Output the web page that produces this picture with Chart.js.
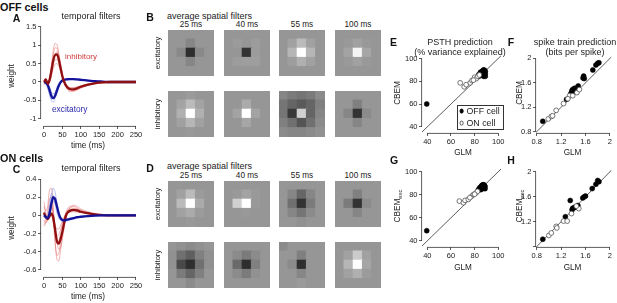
<!DOCTYPE html>
<html><head><meta charset="utf-8">
<script src="https://cdn.jsdelivr.net/npm/chart.js@4"></script>
<style>
html,body{margin:0;padding:0}
body{width:617px;height:303px;overflow:hidden;background:#fff;font-family:"Liberation Sans",Arial,sans-serif;color:#222;position:relative}
canvas{position:absolute}
.t{position:absolute;white-space:nowrap;line-height:1;transform:translate(-50%,-50%);z-index:3}
.l{transform:translate(0,-50%)}
.r{transform:translate(-50%,-50%) rotate(-90deg)}
.b{font-weight:bold}
sub{font-size:0.72em;vertical-align:-0.3em;line-height:0}
.leg{position:absolute;border:0.8px solid #333;background:#fff;z-index:2}
.dot{position:absolute;width:4.8px;height:4.8px;border-radius:50%;transform:translate(-50%,-50%);z-index:3;box-sizing:border-box}
</style></head><body>
<script>
// ---------------- DATA ----------------
const T = [0,5,10,15,20,25,30,35,40,45,50,55,60,65,70,80,90,100,120,140,160,180,200,225,250];

const offInhMean = [0,0.07,-0.05,0.05,0.3, 0.58,0.73,0.75,0.62,0.38, 0.15,0,-0.1,-0.16,-0.19, -0.2,-0.17,-0.13,-0.07,-0.03, -0.01,0,0,0,0];
const offInhCell1 = [-0.05,0.1,-0.08,0.08,0.45, 0.85,1.05,1.02,0.8,0.48, 0.18,-0.03,-0.15,-0.22,-0.26, -0.26,-0.22,-0.17,-0.09,-0.04, -0.02,-0.01,0,0,0];
const offInhCell2 = [0.02,0.05,0,0.1,0.38, 0.72,0.93,0.92,0.72,0.42, 0.16,-0.02,-0.13,-0.2,-0.23, -0.22,-0.19,-0.14,-0.08,-0.04, -0.02,0,0,0,0];
const offInhCell3 = [0,0.06,-0.04,0.03,0.22, 0.45,0.6,0.62,0.52,0.33, 0.14,0.01,-0.08,-0.14,-0.17, -0.17,-0.15,-0.11,-0.06,-0.03, -0.01,0,0,0,0];
const offInhCell4 = [-0.08,0.03,-0.06,0,0.15, 0.35,0.48,0.5,0.44,0.3, 0.13,0.02,-0.07,-0.12,-0.15, -0.15,-0.13,-0.1,-0.05,-0.02, -0.01,0,0,0,0];
const offInhCell5 = [0.03,0.08,-0.02,0.02,0.2, 0.5,0.75,0.82,0.72,0.5, 0.25,0.05,-0.08,-0.16,-0.21, -0.23,-0.2,-0.15,-0.08,-0.04, -0.02,-0.01,0,0,0];

const offExcMean = [0,-0.02,-0.08,-0.22,-0.38, -0.44,-0.38,-0.24,-0.1,-0.01, 0.04,0.06,0.07,0.075,0.08, 0.08,0.07,0.06,0.04,0.02, 0.01,0,0,0,0];
const offExcCell1 = [0,-0.03,-0.12,-0.3,-0.5, -0.55,-0.45,-0.28,-0.12,-0.02, 0.04,0.07,0.08,0.09,0.09, 0.09,0.08,0.07,0.05,0.03, 0.01,0,0,0,0];
const offExcCell2 = [0.02,0,-0.05,-0.15,-0.28, -0.32,-0.28,-0.18,-0.07,0, 0.04,0.05,0.06,0.06,0.07, 0.07,0.06,0.05,0.03,0.02, 0.01,0,0,0,0];
const offExcCell3 = [0,-0.05,-0.18,-0.36,-0.47, -0.43,-0.3,-0.15,-0.04,0.03, 0.06,0.07,0.08,0.08,0.08, 0.08,0.07,0.06,0.04,0.02, 0.01,0,0,0,0];
const offExcCell4 = [0.08,0.02,-0.04,-0.12,-0.28, -0.4,-0.4,-0.3,-0.15,-0.04, 0.03,0.06,0.07,0.08,0.08, 0.08,0.07,0.06,0.04,0.02, 0.01,0,0,0,0];

const onExcMean = [0,-0.02,-0.03,0.02,0.13, 0.2,0.18,0.1,0.02,-0.03, -0.05,-0.055,-0.05,-0.045,-0.04, -0.03,-0.02,-0.015,-0.007,-0.002, 0,0,0,0,0];
const onExcCell1 = [0,-0.03,-0.04,0.05,0.2, 0.3,0.26,0.14,0.03,-0.04, -0.07,-0.07,-0.065,-0.06,-0.05, -0.04,-0.03,-0.02,-0.01,0, 0,0,0,0,0];
const onExcCell2 = [0.01,-0.01,-0.02,0.02,0.1, 0.15,0.14,0.08,0.02,-0.02, -0.04,-0.045,-0.04,-0.035,-0.03, -0.025,-0.02,-0.012,-0.005,0, 0,0,0,0,0];
const onExcCell3 = [0,-0.02,0,0.12,0.24, 0.22,0.12,0.03,-0.03,-0.05, -0.05,-0.045,-0.04,-0.035,-0.03, -0.025,-0.02,-0.012,-0.005,0, 0,0,0,0,0];
const onExcCell4 = [0.02,0,-0.03,0,0.08, 0.18,0.2,0.14,0.05,-0.02, -0.05,-0.06,-0.055,-0.05,-0.045, -0.035,-0.025,-0.015,-0.006,0, 0,0,0,0,0];

const onInhMean = [0.03,-0.02,-0.04,-0.01,0.02, -0.02,-0.15,-0.28,-0.31,-0.26, -0.18,-0.08,0,0.035,0.05, 0.06,0.055,0.04,0.025,0.012, 0.004,0,0,0,0];
const onInhCell1 = [0.15,0.05,0.1,0.28,0.3, 0.1,-0.25,-0.48,-0.5,-0.38, -0.2,-0.05,0.04,0.08,0.1, 0.1,0.08,0.06,0.03,0.01, 0,0,0,0,0];
const onInhCell2 = [-0.05,-0.08,-0.05,0.05,0.1, -0.05,-0.3,-0.44,-0.42,-0.3, -0.17,-0.05,0.02,0.06,0.08, 0.08,0.07,0.05,0.03,0.01, 0,0,0,0,0];
const onInhCell3 = [0.05,0,-0.03,0,0, -0.08,-0.17,-0.22,-0.21,-0.16, -0.09,-0.03,0.01,0.03,0.04, 0.05,0.045,0.035,0.02,0.01, 0,0,0,0,0];
const onInhCell4 = [-0.1,-0.05,0.05,0.18,0.2, 0.05,-0.12,-0.28,-0.37,-0.36, -0.26,-0.13,-0.03,0.04,0.08, 0.11,0.1,0.07,0.04,0.02, 0.01,0,0,0,0];
const onInhCell5 = [0.1,0.02,-0.04,-0.02,0.02, -0.04,-0.1,-0.15,-0.15,-0.11, -0.06,-0.02,0.01,0.025,0.035, 0.04,0.035,0.03,0.015,0.005, 0,0,0,0,0];
const onInhCell6 = [-0.12,-0.08,-0.02,0.08,0.12, 0,-0.2,-0.3,-0.28,-0.2, -0.1,-0.02,0.03,0.05,0.06, 0.065,0.06,0.045,0.025,0.01, 0,0,0,0,0];

const timeTicks = [0,50,100,150,200,250];
const weightTicksOff = [-1,-0.5,0,0.5,1,1.5];
const weightTicksOn = [-0.6,-0.4,-0.2,0,0.2,0.4];
const lagLabels = ['25 ms','40 ms','55 ms','100 ms'];

// spatial filters (5x5, rows top->bottom, values -1..1 relative to background gray)
const offExc25 = [[0,0,0,0,0],[0,0,-0.15,0,0],[0,-0.12,-0.95,-0.12,0],[0,0,-0.15,0,0],[0,0,0,0,0]];
const offExc40 = [[0,0,0,0,0],[0,0.05,0,0.06,0],[0,0,-0.9,0.05,0],[0,0.06,0.08,0.08,0],[0,0,0,0,0]];
const offExc55 = [[0,0,0,0,0],[0,0.1,0.35,0.1,0],[0,0.3,1,0.3,0],[0,0.08,0.25,0.1,0],[0,0,0,0,0]];
const offExc100 = [[0,0,0,0,0],[0,0.03,0.1,0.03,0],[0,0.12,0.9,0.15,0],[0,0.03,0.1,0.03,0],[0,0,0,0,0]];
const offInh25 = [[0,0,0.05,0,0],[0,0.12,0.35,0.12,0],[0,0.25,1,0.25,0],[0,0.1,0.3,0.1,0],[0,0,0.03,0,0]];
const offInh40 = [[0,0,0,0,0],[0,0,0.2,0,0],[0,0.12,1,0.12,0],[0,0,0.15,0,0],[0,0,0,0,0]];
const offInh55 = [[-0.15,-0.25,-0.3,-0.25,-0.1],[-0.3,-0.45,-0.55,-0.45,-0.2],[-0.3,-0.85,0.55,-0.45,-0.15],[-0.2,-0.35,-0.6,-0.35,-0.1],[-0.1,-0.15,-0.15,-0.1,-0.05]];
const offInh100 = [[0,0,0,0,0],[0,0,-0.2,0,0],[0,-0.15,-0.9,-0.1,0],[0,0,-0.15,0,0],[0,0,0,0,0]];
const onExc25 = [[0,0,0,0,0],[0,0.1,0.35,0.05,0],[0,0.35,1,0.2,0],[0,0.1,0.2,0.05,0],[0,0,0.03,0,0]];
const onExc40 = [[0,0,0,0,0],[0,0.03,0.12,0.03,0],[0,0.55,1,0.03,0],[0,0,0.03,0,0],[0,0,0,0,0]];
const onExc55 = [[0,0,0,0,0],[0,-0.15,-0.45,-0.15,0],[0,-0.35,-0.9,-0.25,0],[0,-0.15,-0.3,-0.1,0],[0,0,-0.05,0,0]];
const onExc100 = [[0,0,0,0,0],[0,0,-0.2,0,0],[0,-0.25,-0.9,-0.1,0],[0,0,-0.15,0,0],[0,0,0,0,0]];
const onInh25 = [[0,-0.05,-0.1,-0.05,0],[-0.05,-0.35,-0.5,-0.2,-0.05],[-0.05,-0.7,-0.95,-0.35,-0.05],[0,-0.25,-0.45,-0.2,0],[0,0,-0.1,0,0]];
const onInh40 = [[0,0,0,0,0],[0,-0.1,-0.25,-0.1,0],[0,-0.4,-0.95,-0.2,0],[0,-0.1,-0.25,-0.05,0],[0,0,0,0,0]];
const onInh55 = [[-0.1,0,0,0,0],[0,0,-0.2,0,0],[0,-0.1,-0.95,0,0],[0,0,-0.15,0,0],[0,0,0.05,0,0]];
const onInh100 = [[0,0,0,0,0],[0,0.1,0.5,0.1,0],[0,0.3,1,0.15,0],[0,0.1,0.25,0.05,0],[0,0,0,0,0]];

// model comparison (GLM on x, CBEM on y)
const psthGlmOff  = [39.5,83.4,84.8,86.2,87.6,89,88.2,86.2,87,84.2,89,87.6,89,85.5,86.8,88.5,83,85,87.8];
const psthCbemOff = [60.1,85.7,87.1,88.6,90,88.6,85.7,85.7,87.1,84.8,86.6,84.3,84.3,86.5,89,89.5,84,88,88];
const psthGlmOn   = [67.8,71.2,72.9,76.3,77.7,80,81.4,82.8,79,84];
const psthCbemOn  = [78.6,75.1,77,78.6,80.6,83.5,82.3,84.3,81,85.5];
const bitsGlmOff  = [0.9,1.29,1.37,1.39,1.42,1.45,1.48,1.38,1.36,1.41,1.56,1.57,1.58,1.72,1.77,1.8,1.82];
const bitsCbemOff = [0.97,1.33,1.44,1.49,1.51,1.51,1.55,1.475,1.42,1.46,1.68,1.71,1.67,1.81,1.89,1.92,1.93];
const bitsGlmOn   = [0.99,1.04,1.06,1.12,1.24,1.34,1.39,1.46,1.5,1.31];
const bitsCbemOn  = [1.01,1.05,1.06,1.15,1.26,1.39,1.39,1.44,1.49,1.34];
const psthGlmOffG = [39.5,83.2,84.6,86,87.4,88.8,88.8,86.8,85.1,87.5,85.5,88,84,86.5];
const psthExcOff  = [48.8,84.4,86.4,87.8,88.7,87.3,85.3,85.3,84.4,86.5,87,88.5,85.5,88.5];
const psthGlmOnG  = [67.1,70.5,71.9,74.7,77.6,79,81.2,82.4,80,76];
const psthExcOn   = [74.5,73.1,75.1,76,78.8,80.2,81.6,83,80.5,77.5];
const bitsGlmOffH = [0.9,1.27,1.35,1.39,1.44,1.475,1.38,1.555,1.58,1.6,1.71,1.77,1.8,1.82,1.42];
const bitsExcOff  = [0.92,1.28,1.54,1.415,1.43,1.46,1.39,1.58,1.6,1.61,1.73,1.8,1.86,1.84,1.43];
const bitsGlmOnH  = [1.0,1.04,1.12,1.24,1.3,1.37,1.49,1.13,1.45];
const bitsExcOn   = [0.98,1.02,1.125,1.21,1.21,1.33,1.41,1.1,1.45];
const pctTicks = [40,60,80,100];
const bitsTicks = [0.8,1.2,1.6,2];
const bitsTickLabelsH = ['','1.2','1.6','2'];
const diagPct = [30,110];
const diagBits = [0.6,2.2];

// ---------------- RENDER ----------------
Chart.defaults.font.family = '"Liberation Sans", Arial, sans-serif';
Chart.defaults.color = '#222';
const AX = '#333';
const TICK = 7.5;

function mkCanvas(x,y,w,h){const c=document.createElement('canvas');c.width=w;c.height=h;c.style.left=x+'px';c.style.top=y+'px';c.style.width=w+'px';c.style.height=h+'px';document.body.appendChild(c);return c;}
function txt(html,x,y,size,cls,color){const d=document.createElement('div');d.className='t '+(cls||'');d.innerHTML=html;d.style.left=x+'px';d.style.top=y+'px';d.style.fontSize=size+'px';if(color)d.style.color=color;document.body.appendChild(d);}
function pts(xs,ys){return xs.map((x,i)=>({x,y:ys[i]}));}

const rAxis={id:'rAxis',afterDraw(chart){
  const ctx=chart.ctx,a=chart.chartArea,xs=chart.scales.x,ys=chart.scales.y;
  ctx.save();ctx.strokeStyle=AX;ctx.lineWidth=0.8;
  const x0=xs.getPixelForValue(xs.ticks[0].value),x1=xs.getPixelForValue(xs.ticks[xs.ticks.length-1].value);
  ctx.beginPath();ctx.moveTo(x0,a.bottom+0.4);ctx.lineTo(x1,a.bottom+0.4);ctx.stroke();
  const y0=ys.getPixelForValue(ys.ticks[0].value),y1=ys.getPixelForValue(ys.ticks[ys.ticks.length-1].value);
  ctx.beginPath();ctx.moveTo(a.left-0.4,y0);ctx.lineTo(a.left-0.4,y1);ctx.stroke();
  ctx.restore();}};

function axisOpts(k,min,max,tv,tl,size){
  return {type:'linear',min,max,position:k==='x'?'bottom':'left',
    afterBuildTicks:s=>{s.ticks=tv.map(v=>({value:v}));},
    afterFit:s=>{if(k==='x')s.height=size;else s.width=size;s.paddingLeft=0;s.paddingRight=0;s.paddingTop=0;s.paddingBottom=0;},
    grid:{drawOnChartArea:false,drawTicks:true,tickLength:3,color:AX,lineWidth:0.8},
    border:{display:false},
    ticks:{autoSkip:false,maxRotation:0,minRotation:0,padding:k==='x'?1.8:1.5,color:'#222',font:{size:TICK},
      callback:(v,i)=>tl?tl[i]:String(v)}};
}
function axChart(g,sc,datasets){
  const c=mkCanvas(g.x,g.y,g.w,g.h);
  return new Chart(c,{type:'scatter',data:{datasets},options:{
    responsive:false,animation:false,events:[],
    layout:{padding:{top:g.pt,right:g.pr,left:0,bottom:0}},
    plugins:{legend:{display:false},tooltip:{enabled:false}},
    scales:{x:axisOpts('x',sc.xmin,sc.xmax,sc.xt,sc.xl,g.xh),y:axisOpts('y',sc.ymin,sc.ymax,sc.yt,sc.yl,g.yw)}},
    plugins:[rAxis]});
}
function line(ys,color,w,order){return {data:pts(T,ys),showLine:true,borderColor:color,borderWidth:w,pointRadius:0,cubicInterpolationMode:'monotone',order};}
const LR='rgba(226,80,80,0.55)',LB='rgba(100,120,225,0.55)',DR='#8e1010',DB='#14149a';

// Panel A
axChart({x:8,y:20,w:137,h:125,pt:4,pr:5,yw:33,xh:19},
  {xmin:-8.15,xmax:260.9,ymin:-1.196,ymax:1.576,xt:timeTicks,yt:weightTicksOff},
  [line(offInhCell1,LR,0.8,10),line(offInhCell2,LR,0.8,10),line(offInhCell3,LR,0.8,10),line(offInhCell4,LR,0.8,10),line(offInhCell5,LR,0.8,10),
   line(offExcCell1,LB,0.8,9),line(offExcCell2,LB,0.8,9),line(offExcCell3,LB,0.8,9),line(offExcCell4,LB,0.8,9),
   line(offExcMean,DB,2.3,2),line(offInhMean,DR,2.3,1)]);
// Panel C
axChart({x:8,y:171,w:137,h:125,pt:4,pr:5,yw:33,xh:19},
  {xmin:-8.15,xmax:260.9,ymin:-0.677,ymax:0.444,xt:timeTicks,yt:weightTicksOn},
  [line(onInhCell1,LR,0.8,10),line(onInhCell2,LR,0.8,10),line(onInhCell3,LR,0.8,10),line(onInhCell4,LR,0.8,10),line(onInhCell5,LR,0.8,10),line(onInhCell6,LR,0.8,10),
   line(onExcCell1,LB,0.8,9),line(onExcCell2,LB,0.8,9),line(onExcCell3,LB,0.8,9),line(onExcCell4,LB,0.8,9),
   line(onInhMean,DR,2.3,2),line(onExcMean,DB,2.3,1)]);

// scatter panels
function scat(xo,yo,xn,yn,diag){return [
  {data:pts(diag,diag),showLine:true,borderColor:'#333',borderWidth:0.8,pointRadius:0,order:5},
  {data:pts(xo,yo),pointRadius:2.5,backgroundColor:'#000',borderColor:'#000',borderWidth:0.5,order:2},
  {data:pts(xn,yn),pointRadius:2.4,backgroundColor:'#fff',borderColor:'#555',borderWidth:0.8,order:1}];}
axChart({x:396,y:50,w:110,h:100,pt:3,pr:5,yw:26,xh:17},
  {xmin:35.5,xmax:102.3,ymin:34.6,ymax:103.2,xt:pctTicks,yt:pctTicks},
  scat(psthGlmOff,psthCbemOff,psthGlmOn,psthCbemOn,diagPct));
axChart({x:510,y:50,w:106,h:100,pt:3,pr:4,yw:26,xh:17},
  {xmin:0.789,xmax:2.021,ymin:0.779,ymax:2.059,xt:bitsTicks,yt:bitsTicks},
  scat(bitsGlmOff,bitsCbemOff,bitsGlmOn,bitsCbemOn,diagBits));
axChart({x:396,y:163,w:110,h:101,pt:3,pr:5,yw:26,xh:17},
  {xmin:35.5,xmax:102.3,ymin:34.65,ymax:103.4,xt:pctTicks,yt:pctTicks},
  scat(psthGlmOffG,psthExcOff,psthGlmOnG,psthExcOn,diagPct));
axChart({x:510,y:163,w:106,h:101,pt:3,pr:4,yw:26,xh:17},
  {xmin:0.789,xmax:2.021,ymin:0.795,ymax:2.063,xt:bitsTicks,yt:bitsTicks,yl:bitsTickLabelsH},
  scat(bitsGlmOffH,bitsExcOff,bitsGlmOnH,bitsExcOn,diagBits));

// spatial filter heatmaps
function gray(v){const g=Math.round(v>=0?150+v*105:150+v*110);return 'rgb('+g+','+g+','+g+')';}
function heat(grid,x,y){
  const c=mkCanvas(x,y,46,46);const datasets=[];
  for(let r=4;r>=0;r--){const cols=grid[r].map(gray);datasets.push({data:[1,1,1,1,1],backgroundColor:cols,borderColor:cols,borderWidth:0,inflateAmount:0.7,borderSkipped:false,barPercentage:1,categoryPercentage:1});}
  new Chart(c,{type:'bar',data:{labels:['1','2','3','4','5'],datasets},options:{responsive:false,animation:false,events:[],
    layout:{padding:0},plugins:{legend:{display:false},tooltip:{enabled:false}},
    scales:{x:{display:false,stacked:true},y:{display:false,stacked:true,min:0,max:5}}}});
}
const colX=[168,224,279,335];
[offExc25,offExc40,offExc55,offExc100].forEach((g,i)=>heat(g,colX[i],30));
[offInh25,offInh40,offInh55,offInh100].forEach((g,i)=>heat(g,colX[i],91));
[onExc25,onExc40,onExc55,onExc100].forEach((g,i)=>heat(g,colX[i],181));
[onInh25,onInh40,onInh55,onInh100].forEach((g,i)=>heat(g,colX[i],242));

// ---------------- TEXT ----------------
const TT=9, AT=8.2;
txt('OFF cells',0,6.5,10.8,'l b','#111');
txt('A',16.5,17.5,10.5,'b','#111');
txt('temporal filters',91,16,TT);
txt('weight',12,76,AT,'r');
txt('time (ms)',88,146,AT);
txt('inhibitory',65,57,8,'l','#d03a3a');
txt('excitatory',52,108.5,8.3,'l','#2a2aa8');
txt('ON cells',0,157.5,10.8,'l b','#111');
txt('C',16.5,168.5,10.5,'b','#111');
txt('temporal filters',91,168,TT);
txt('weight',12,228,AT,'r');
txt('time (ms)',88,297,AT);

txt('B',150,17,10.5,'b','#111');
txt('D',150,168,10.5,'b','#111');
txt('average spatial filters',167,15.5,TT,'l');
txt('average spatial filters',167,166,TT,'l');
lagLabels.forEach((s,i)=>{txt(s,colX[i]+23,24.5,8.2);txt(s,colX[i]+23,176,8.2);});
txt('excitatory',157.5,53,7.6,'r');
txt('inhibitory',157.5,114,7.6,'r');
txt('excitatory',157.5,204,7.6,'r');
txt('inhibitory',157.5,265,7.6,'r');

txt('E',393.5,42,10.5,'b','#111');
txt('PSTH prediction',460,41.5,TT);
txt('(% variance explained)',460,51.5,TT);
txt('F',511,42,10.5,'b','#111');
txt('spike train prediction',575,41.5,TT);
txt('(bits per spike)',575,51.5,TT);
txt('CBEM',398,93,AT,'r');
txt('CBEM',519.5,93,AT,'r');
txt('GLM',463,153,AT);
txt('GLM',572.5,153,AT);
txt('G',394,160,10.5,'b','#111');
txt('H',511,160,10.5,'b','#111');
txt('CBEM<sub>exc</sub>',398,206,AT,'r');
txt('CBEM<sub>exc</sub>',519.5,206,AT,'r');
txt('GLM',463,267.5,AT);
txt('GLM',572.5,267.5,AT);

// legend of panel E
const lg=document.createElement('div');lg.className='leg';lg.style.left='457px';lg.style.top='104.5px';lg.style.width='44.5px';lg.style.height='23px';document.body.appendChild(lg);
function dot(x,y,filled){const d=document.createElement('div');d.className='dot';d.style.left=x+'px';d.style.top=y+'px';d.style.background=filled?'#000':'#fff';d.style.border='0.8px solid '+(filled?'#000':'#555');document.body.appendChild(d);}
dot(461.7,111,true);dot(461.7,123,false);
txt('OFF cell',466.5,111,8.8,'l');
txt('ON cell',466.5,123,8.8,'l');
</script>
</body></html>
